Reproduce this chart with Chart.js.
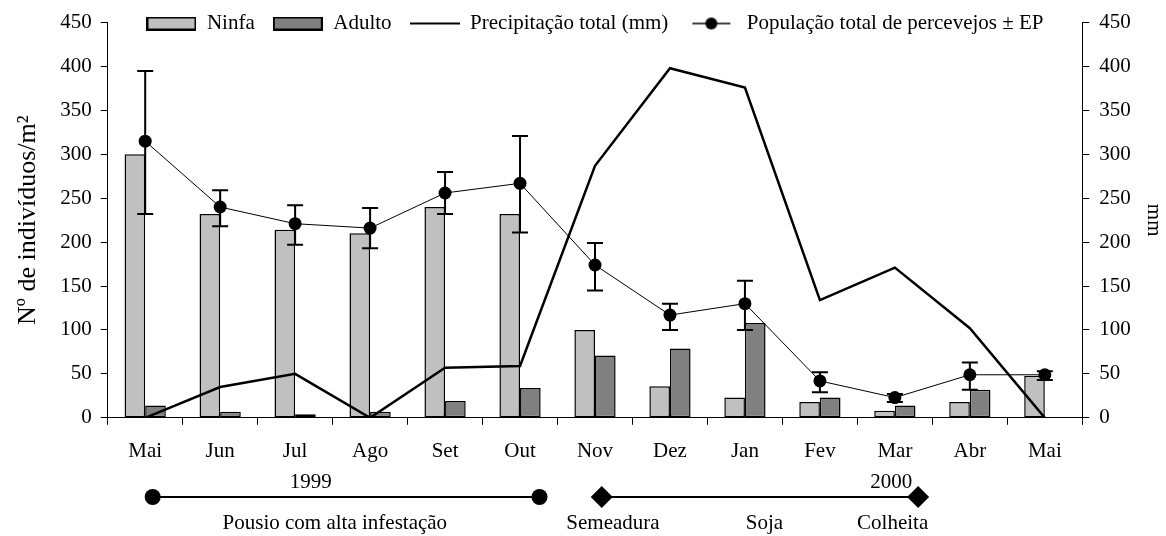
<!DOCTYPE html>
<html>
<head>
<meta charset="utf-8">
<title>Percevejos e precipitação</title>
<script src="https://cdn.jsdelivr.net/npm/chart.js@4.4.1/dist/chart.umd.min.js"></script>
<style>
  html, body { margin: 0; background: #fff; }
  #wrap { position: relative; width: 1166px; height: 536px; }
</style>
</head>
<body>
<div id="wrap"><canvas id="chart"></canvas></div>
<script>
"use strict";

// values
var months = ["Mai", "Jun", "Jul", "Ago", "Set", "Out", "Nov", "Dez", "Jan", "Fev", "Mar", "Abr", "Mai"];
var ninfa = [300, 232, 214, 210, 240, 232, 100, 36, 23, 18, 8, 18, 48];
var adulto = [14, 7, 4, 7, 19, 34, 71, 79, 108, 23, 14, 32, 0];
var precipitacao = [0, 35, 50, 0, 57, 59, 287, 398, 376, 134, 171, 102, 0];
var populacao = [315, 240, 221, 216, 256, 267, 174, 117, 130, 42, 23, 49, 49];
var epLow = [232, 218, 197, 193, 232, 211, 145, 100, 100, 29, 18, 32, 43];
var epHigh = [395, 259, 242, 239, 280, 321, 199, 130, 156, 52, 27, 63, 53];
var axisMin = 0;
var axisMax = 450;
var axisStep = 50;

// periods under the axis, positions given as (fractional) category index
var phases = [
  { start: 0.1, end: 5.26, marker: "circle", year: "1999", yearAt: 2.21,
    notes: [["Pousio com alta infestação", 2.53]] },
  { start: 6.09, end: 10.31, marker: "diamond", year: "2000", yearAt: 9.95,
    notes: [["Semeadura", 6.24], ["Soja", 8.26], ["Colheita", 9.97]] }
];

var serif = "'Liberation Serif', 'Times New Roman', serif";
Chart.defaults.font.family = serif;
Chart.defaults.color = "#000";

function legendSymbol(kind, fill) {
  var c = document.createElement("canvas");
  c.width = 50;
  c.height = 14;
  var g = c.getContext("2d");
  g.strokeStyle = "#000";
  g.fillStyle = "#000";
  if (kind === "box") {
    g.fillStyle = fill;
    g.fillRect(1, 1, 48, 12);
    g.lineWidth = 2;
    g.strokeRect(1, 1, 48, 12);
  } else if (kind === "line") {
    g.lineWidth = 2;
    g.beginPath();
    g.moveTo(0, 7);
    g.lineTo(50, 7);
    g.stroke();
  } else {
    g.lineWidth = 1.5;
    g.beginPath();
    g.moveTo(6, 7);
    g.lineTo(44, 7);
    g.stroke();
    g.beginPath();
    g.arc(25, 7, 6, 0, Math.PI * 2);
    g.fill();
  }
  return c;
}

var symbols = [
  legendSymbol("box", "#c0c0c0"),
  legendSymbol("box", "#808080"),
  legendSymbol("line"),
  legendSymbol("dot")
];

// the legend overlaps the top of the plot: take no layout room, draw at the top edge
var legendLift = {
  id: "legendLift",
  beforeLayout: function(chart) {
    var lg = chart.legend;
    if (lg && !lg._lifted) {
      var fit = lg.fit;
      lg.fit = function() {
        fit.call(this);
        this._realHeight = this.height;
        this.height = 0;
      };
      lg._lifted = true;
    }
  },
  afterLayout: function(chart) {
    var lg = chart.legend;
    lg.top = -5;
    lg.bottom = -5 + lg._realHeight;
    lg.height = lg._realHeight;
  }
};

var errorBars = {
  id: "errorBars",
  afterDatasetsDraw: function(chart) {
    var ctx = chart.ctx;
    var y = chart.scales.y;
    var meta = chart.getDatasetMeta(3);
    ctx.save();
    ctx.strokeStyle = "#000";
    ctx.lineWidth = 2;
    meta.data.forEach(function(pt, i) {
      var top = y.getPixelForValue(epHigh[i]);
      var bottom = y.getPixelForValue(epLow[i]);
      ctx.beginPath();
      ctx.moveTo(pt.x, top);
      ctx.lineTo(pt.x, bottom);
      ctx.moveTo(pt.x - 8, top);
      ctx.lineTo(pt.x + 8, top);
      ctx.moveTo(pt.x - 8, bottom);
      ctx.lineTo(pt.x + 8, bottom);
      ctx.stroke();
    });
    ctx.restore();
  }
};

var timeline = {
  id: "timeline",
  afterDraw: function(chart) {
    var ctx = chart.ctx;
    var x = chart.scales.x;
    var base = x.bottom;
    var lineY = base + 19;
    ctx.save();
    ctx.fillStyle = "#000";
    ctx.strokeStyle = "#000";
    ctx.lineWidth = 2;
    ctx.font = "21px " + serif;
    ctx.textAlign = "center";
    ctx.textBaseline = "middle";
    phases.forEach(function(p) {
      var x0 = x.getPixelForValue(p.start);
      var x1 = x.getPixelForValue(p.end);
      ctx.beginPath();
      ctx.moveTo(x0, lineY);
      ctx.lineTo(x1, lineY);
      ctx.stroke();
      [x0, x1].forEach(function(px) {
        ctx.beginPath();
        if (p.marker === "circle") {
          ctx.arc(px, lineY, 8, 0, Math.PI * 2);
        } else {
          ctx.moveTo(px, lineY - 11);
          ctx.lineTo(px + 11, lineY);
          ctx.lineTo(px, lineY + 11);
          ctx.lineTo(px - 11, lineY);
          ctx.closePath();
        }
        ctx.fill();
      });
      ctx.fillText(p.year, x.getPixelForValue(p.yearAt), base + 4);
      p.notes.forEach(function(n) {
        ctx.fillText(n[0], x.getPixelForValue(n[1]), base + 45);
      });
    });
    ctx.restore();
  }
};

function valueAxis(position, title, titleSize, tickPadding, titlePadding) {
  return {
    type: "linear",
    position: position,
    min: axisMin,
    max: axisMax,
    ticks: { stepSize: axisStep, font: { size: 21 }, padding: tickPadding, color: "#000" },
    grid: { drawOnChartArea: false, drawTicks: true, tickLength: 7, color: "#000", lineWidth: 1 },
    border: { display: true, color: "#000", width: 1 },
    title: { display: true, text: title, font: { size: titleSize }, color: "#000", padding: titlePadding }
  };
}

new Chart(document.getElementById("chart").getContext("2d"), {
  type: "bar",
  data: {
    labels: months,
    datasets: [
      {
        label: "Ninfa",
        data: ninfa,
        backgroundColor: "#c0c0c0",
        borderColor: "#000",
        borderWidth: 1.5,
        borderSkipped: false,
        yAxisID: "y",
        order: 3
      },
      {
        label: "Adulto",
        data: adulto,
        backgroundColor: "#808080",
        borderColor: "#000",
        borderWidth: 1.5,
        borderSkipped: false,
        yAxisID: "y",
        order: 3
      },
      {
        type: "line",
        label: "Precipitação total (mm)",
        data: precipitacao,
        borderColor: "#000",
        borderWidth: 2.5,
        pointRadius: 0,
        tension: 0,
        fill: false,
        yAxisID: "y2",
        order: 2
      },
      {
        type: "line",
        label: "População total de percevejos ± EP",
        data: populacao,
        borderColor: "#000",
        borderWidth: 1,
        pointRadius: 6.5,
        pointBackgroundColor: "#000",
        pointBorderWidth: 0,
        tension: 0,
        fill: false,
        yAxisID: "y",
        order: 1
      }
    ]
  },
  options: {
    responsive: true,
    maintainAspectRatio: false,
    animation: false,
    layout: { padding: { top: 21, left: 6, right: 0, bottom: 58 } },
    datasets: { bar: { categoryPercentage: 0.55, barPercentage: 1 } },
    plugins: {
      tooltip: { enabled: false },
      legend: {
        position: "top",
        fullSize: false,
        labels: {
          usePointStyle: true,
          pointStyleWidth: 50,
          boxHeight: 14,
          padding: 18,
          color: "#000",
          font: { size: 21 },
          generateLabels: function(chart) {
            return chart.data.datasets.map(function(ds, i) {
              return {
                text: ds.label,
                pointStyle: symbols[i],
                datasetIndex: i,
                fontColor: "#000",
                hidden: false,
                lineWidth: 0
              };
            });
          }
        }
      }
    },
    scales: {
      x: {
        ticks: { font: { size: 21 }, padding: 14, color: "#000", maxRotation: 0, autoSkip: false },
        grid: { drawOnChartArea: false, drawTicks: true, tickLength: 7, color: "#000", offset: true },
        border: { display: true, color: "#000", width: 1 }
      },
      y: valueAxis("left", "Nº de indivíduos/m²", 26, 9, { top: 7, bottom: 7 }),
      y2: valueAxis("right", "mm", 21, 10, { top: 0, bottom: 0 })
    }
  },
  plugins: [legendLift, errorBars, timeline]
});
</script>
</body>
</html>
